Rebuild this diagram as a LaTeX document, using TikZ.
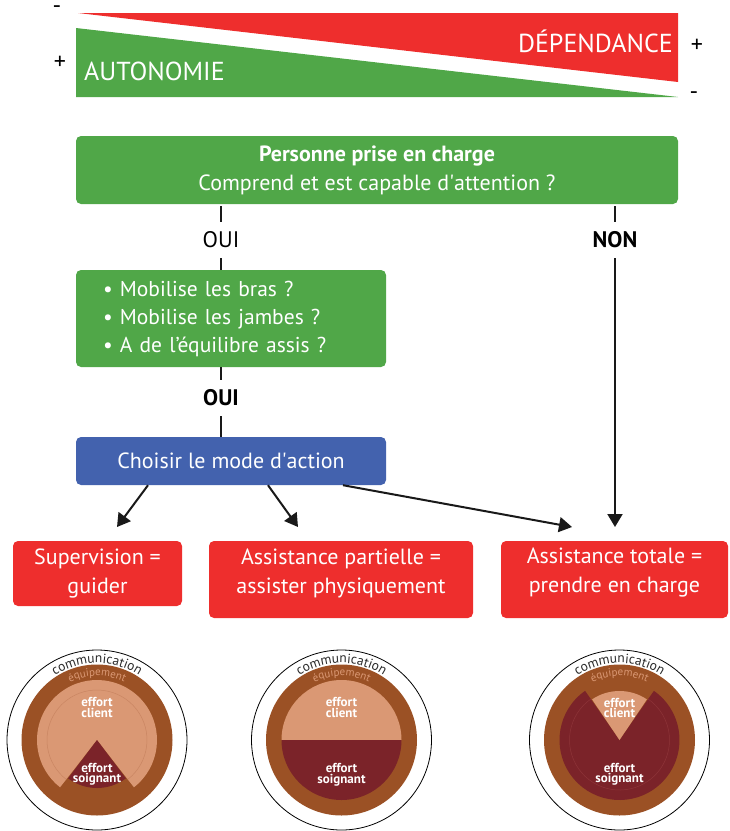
\documentclass[tikz,border=0pt]{standalone}
\usepackage{fontspec}
\setmainfont{PT Sans}
\usetikzlibrary{arrows.meta,decorations.text,calc}
\definecolor{cgreen}{HTML}{50A748}
\definecolor{cred}{HTML}{EE2E2D}
\definecolor{cblue}{HTML}{4362AE}
\definecolor{cbrown}{HTML}{9B5125}
\definecolor{ctan}{HTML}{DA9874}
\definecolor{ctanline}{HTML}{C98562}
\definecolor{cdark}{HTML}{7B2329}
\definecolor{cdarkline}{HTML}{8E3438}
\definecolor{ccomm}{HTML}{2B2B2B}
\newcommand\commfont{\color{ccomm}\fontsize{13.5}{13.5}\selectfont}
\newcommand\eqfont{\color{ctan}\fontsize{11}{11}\selectfont}
\begin{document}
\begin{tikzpicture}[x=1pt,y=1pt,
  box/.style={rounded corners=5pt, text=white, inner sep=0pt, align=center, font=\fontsize{22}{29}\selectfont},
  txt/.style={text=white, inner sep=0pt, align=center, font=\fontsize{22}{29}\selectfont},
  lbl/.style={inner sep=0pt, minimum height=36pt, font=\fontsize{22.5}{22.5}\selectfont},
  sign/.style={inner sep=0pt, font=\fontsize{24}{24}\selectfont},
  conn/.style={line width=2pt, draw=black!90},
  arr/.style={conn, -{Triangle[width=15pt,length=13pt]}},
  eff/.style={text=white, inner sep=0pt, align=center, font=\bfseries\fontsize{13}{10.5}\selectfont},
  ring/.style={line width=0.8pt, draw=black}]
\useasboundingbox (0,0) rectangle (730,-831);

% gradient triangles
\fill[cred] (78,-13) -- (678,-13) -- (678,-82) -- cycle;
\fill[cgreen] (76,-28) -- (678,-97) -- (76,-97) -- cycle;
\node[anchor=base east, text=white, inner sep=0pt, font=\fontsize{26}{26}\selectfont] (dep) at (673,-52) {DÉPENDANCE};
\node[anchor=base west, text=white, inner sep=0pt, font=\fontsize{26}{26}\selectfont] (aut) at (84,-80) {AUTONOMIE};
\node[sign] (m1) at (57,-10) {-};
\node[sign] (p1) at (60,-63) {+};
\node[sign] (p2) at (697,-46) {+};
\node[sign] (m2) at (694,-96) {-};

% boxes
\node[box, fill=cgreen, minimum width=602pt, minimum height=68pt] (b1) at (377,-170)
  {\textbf{Personne prise en charge}\\Comprend et est capable d\textquotesingle attention ?};
\node[box, fill=cgreen, minimum width=310pt, minimum height=97pt, align=left, text width=256pt, font=\fontsize{21.5}{28}\selectfont] (b2) at (231,-318.5)
  {\textbullet\ Mobilise les bras ?\\\textbullet\ Mobilise les jambes ?\\\textbullet\ A de l’équilibre assis ?};
\node[box, fill=cblue, minimum width=310pt, minimum height=48pt] (bl) at (231,-461) {Choisir le mode d\textquotesingle action};
\node[box, fill=cred, minimum width=169pt, minimum height=65pt] (rA) at (97.5,-573.5) {Supervision =\\guider};
\node[box, fill=cred, minimum width=264pt, minimum height=77pt] (rB) at (341,-579.5) {};
\node[txt] (tB) at (341,-573) {Assistance partielle =\\assister physiquement};
\node[box, fill=cred, minimum width=227pt, minimum height=77pt] (rC) at (614.5,-579.5) {};
\node[txt] (tC) at (614.5,-573) {Assistance totale =\\prendre en charge};

% labels
\node[lbl] (o1) at (221,-240) {OUI};
\node[lbl, font=\bfseries\fontsize{22.5}{22.5}\selectfont] (n1) at (615,-240) {NON};
\node[lbl, font=\bfseries\fontsize{22.5}{22.5}\selectfont] (o2) at (221,-398) {OUI};

% connectors
\coordinate (eA) at (117,-527);
\coordinate (eB) at (298,-527);
\coordinate (eC) at (572,-527);
\coordinate (eN) at (615,-527);
\draw[conn] ([yshift=-2pt]b1.south -| o1) -- (o1.north);
\draw[conn] (o1.south) -- (b2.north -| o1);
\draw[conn] ([yshift=-2pt]b1.south -| n1) -- (n1.north);
\draw[arr] (n1.south) -- (eN);
\draw[conn] (b2.south -| o2) -- (o2.north);
\draw[conn] (o2.south) -- (bl.north -| o2);
\draw[arr] ([xshift=-83pt]bl.south) -- (eA);
\draw[arr] ([xshift=37pt]bl.south) -- (eB);
\draw[arr] ([xshift=112pt]bl.south) -- (eC);

% circle 1 : supervision
\begin{scope}[shift={(97,-740)}]
\draw[ring] (0,0) circle[radius=90];
\fill[cbrown] (0,0) circle[radius=75.5];
\fill[ctan] (0,0) -- (-52:60) arc[start angle=-52,end angle=232,radius=60] -- cycle;
\draw[ctanline, line width=0.5pt] (-52:50) arc[start angle=-52,end angle=232,radius=50];
\fill[cdark] (0,0) -- (-127:48) arc[start angle=-127,end angle=-53,radius=48] -- cycle;
\path[decorate, decoration={text along path, text align=center, text={|\commfont|communication}}] (180:77) arc[start angle=180,end angle=0,radius=77];
\path[decorate, decoration={text along path, text align=center, text={|\eqfont|équipement}}] (180:64) arc[start angle=180,end angle=0,radius=64];
\node[eff] (c1) at (0,32.5) {effort\\client};
\node[eff] (s1) at (0,-34.5) {effort\\soignant};
\end{scope}

% circle 2 : assistance partielle
\begin{scope}[shift={(341.5,-740)}]
\draw[ring] (0,0) circle[radius=90];
\fill[cbrown] (0,0) circle[radius=75.5];
\fill[ctan] (0:60) arc[start angle=0,end angle=180,radius=60] -- cycle;
\fill[cdark] (180:60) arc[start angle=180,end angle=360,radius=60] -- cycle;
\path[decorate, decoration={text along path, text align=center, text={|\commfont|communication}}] (180:77) arc[start angle=180,end angle=0,radius=77];
\path[decorate, decoration={text along path, text align=center, text={|\eqfont|équipement}}] (180:64) arc[start angle=180,end angle=0,radius=64];
\node[eff] (c2) at (0,32.5) {effort\\client};
\node[eff] (s2) at (0,-35) {effort\\soignant};
\end{scope}

% circle 3 : assistance totale
\begin{scope}[shift={(619.5,-740)}]
\draw[ring] (0,0) circle[radius=90];
\fill[cbrown] (0,0) circle[radius=75.5];
\fill[cdark] (0,0) -- (125:60) arc[start angle=125,end angle=415,radius=60] -- cycle;
\draw[cdarkline, line width=0.5pt] (125:50) arc[start angle=125,end angle=415,radius=50];
\fill[ctan] (0,0) -- (56:49) arc[start angle=56,end angle=124,radius=49] -- cycle;
\path[decorate, decoration={text along path, text align=center, text={|\commfont|communication}}] (180:77) arc[start angle=180,end angle=0,radius=77];
\path[decorate, decoration={text along path, text align=center, text={|\eqfont|équipement}}] (180:64) arc[start angle=180,end angle=0,radius=64];
\node[eff] (c3) at (0,32) {effort\\client};
\node[eff] (s3) at (0,-34.5) {effort\\soignant};
\end{scope}
\end{tikzpicture}
\end{document}
